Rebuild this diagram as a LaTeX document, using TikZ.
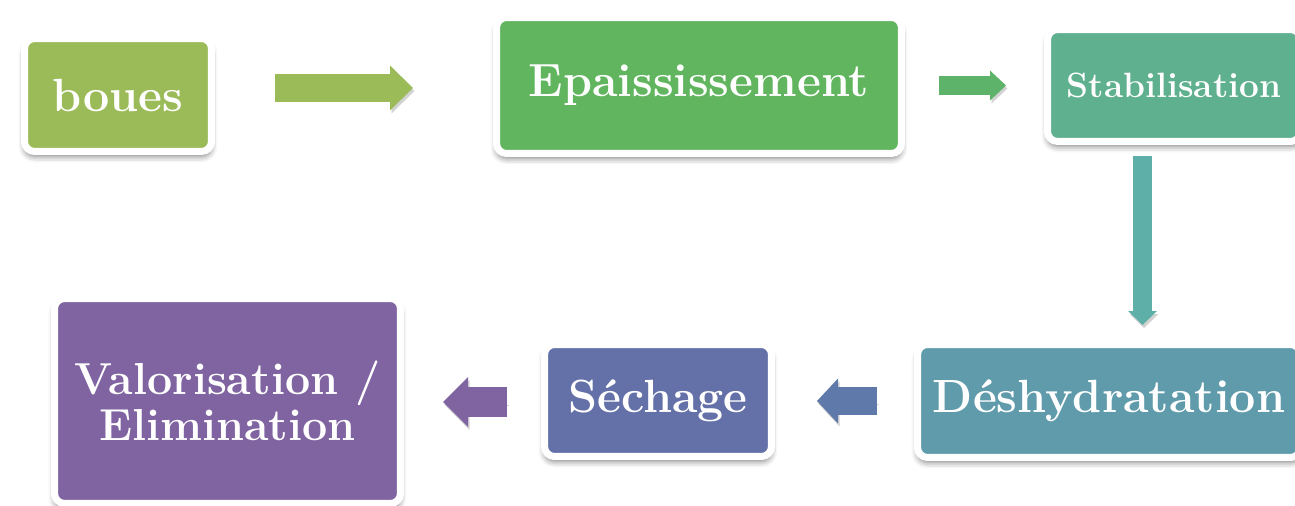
\documentclass[tikz,border=0pt]{standalone}
\usepackage{tikz}
\usetikzlibrary{arrows.meta}
\usetikzlibrary{shadows, shadows.blur}
\usetikzlibrary{calc, positioning}
\definecolor{cBoues}{HTML}{9BBB59}
\definecolor{cEpais}{HTML}{61B55E}
\definecolor{cFlecheB}{HTML}{5DB369}
\definecolor{cStab}{HTML}{5EB08F}
\definecolor{cFlecheC}{HTML}{5EAFA8}
\definecolor{cDesh}{HTML}{5F9BAB}
\definecolor{cFlecheD}{HTML}{5F7AAA}
\definecolor{cSech}{HTML}{6470A8}
\definecolor{cValo}{HTML}{8064A2}
\tikzset{
    etape/.style={
        rectangle, rounded corners=0.2cm, draw=white, line width=0.14cm,
        text=white, align=center, inner sep=0pt,
        font=\bfseries\fontsize{26.5}{26}\selectfont,
        blur shadow={shadow xshift=0pt, shadow yshift=-0.1cm, shadow blur radius=0.12cm, shadow opacity=50}
    },
    fleche/.style args={#1 #2 #3}{
        line width=#1, line cap=butt,
        -{Triangle[length=#3, width=#2, line width=0pt]},
        preaction={draw=black!70, opacity=0.25, transform canvas={xshift=0.03cm, yshift=-0.06cm}}
    },
    fleche/.default={0.5cm 0.9cm 0.45cm}
}
\begin{document}
\begin{tikzpicture}[x=0.02cm, y=-0.02cm]
    \useasboundingbox (0,0) rectangle (1295,506);
    % centres des etapes
    \coordinate (c1) at (118, 95);
    \coordinate (c2) at (699, 85.5);
    \coordinate (c3) at (1174, 85.5);
    \coordinate (c4) at (1109, 401);
    \coordinate (c5) at (658, 400.5);
    \coordinate (c6) at (227.5, 401);
    \node[etape, fill=cBoues, minimum width=3.74cm, minimum height=2.26cm] (boues) at (c1) {boues};
    \node[etape, fill=cEpais, minimum width=8.10cm, minimum height=2.72cm] (epais) at (c2) {Epaississement};
    \node[etape, fill=cStab, minimum width=5.06cm, minimum height=2.24cm, font=\bfseries\fontsize{20}{20}\selectfont] (stab) at (c3) {Stabilisation};
    \node[etape, fill=cDesh, minimum width=7.66cm, minimum height=2.26cm] (desh) at (c4) {Déshydratation};
    \node[etape, fill=cSech, minimum width=4.54cm, minimum height=2.24cm] (sech) at (c5) {Séchage};
    \node[etape, fill=cValo, minimum width=6.92cm, minimum height=4.10cm, font=\bfseries\fontsize{25.5}{26}\selectfont] (valo) at (c6) {Valorisation /\\Elimination};
    % fleches
    \coordinate (a1) at (275, 88);
    \coordinate (b1) at (413, 88);
    \coordinate (a2) at (939, 85.5);
    \coordinate (b2) at (1006, 85.5);
    \coordinate (a3) at (1142.5, 156);
    \coordinate (b3) at (1142.5, 325);
    \coordinate (a4) at (877, 401);
    \coordinate (b4) at (817, 401);
    \coordinate (a5) at (507, 402);
    \coordinate (b5) at (443, 402);
    \draw[fleche={0.56cm 0.9cm 0.46cm}, cBoues] (a1) -- (b1);
    \draw[fleche={0.38cm 0.6cm 0.32cm}, cFlecheB] (a2) -- (b2);
    \draw[fleche={0.38cm 0.58cm 0.28cm}, cFlecheC] (a3) -- (b3);
    \draw[fleche={0.56cm 0.9cm 0.42cm}, cFlecheD] (a4) -- (b4);
    \draw[fleche={0.6cm 1.0cm 0.5cm}, cValo] (a5) -- (b5);
\end{tikzpicture}
\end{document}
